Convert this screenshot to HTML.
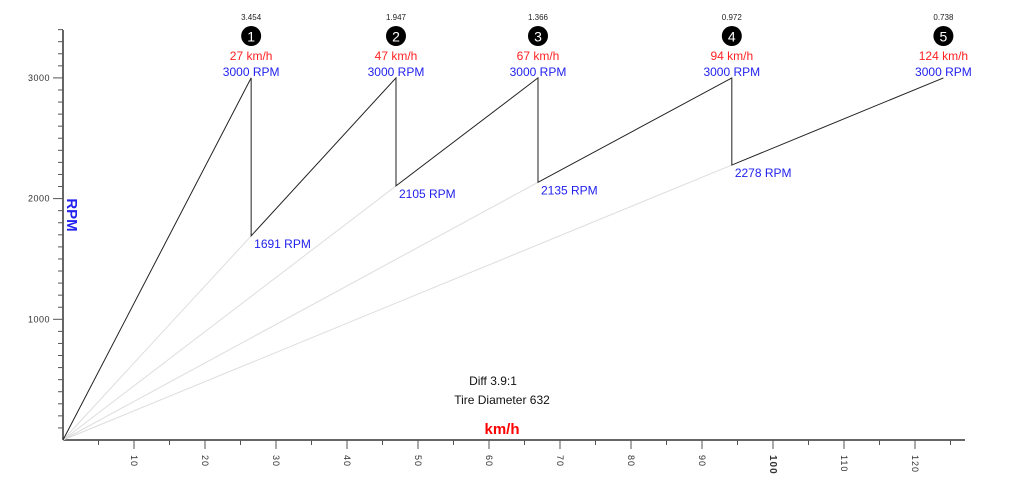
<!DOCTYPE html>
<html><head><meta charset="utf-8"><style>
body{margin:0;background:#fff;}
svg{display:block;font-family:"Liberation Sans",sans-serif;}
</style></head><body>
<svg id="chart" width="1024" height="491" viewBox="0 0 1024 491"></svg>
<script>
const gearRatios=["3.454","1.947","1.366","0.972","0.738"];
const shiftSpeeds=[26.5,46.9,66.9,94.2,124];
const shiftLabels=["27 km/h","47 km/h","67 km/h","94 km/h","124 km/h"];
const maxRpm=[3000,3000,3000,3000,3000];
const dropRpm=[1691,2105,2135,2278];
const xTicks=[10,20,30,40,50,60,70,80,90,100,110,120];
const yTicks=[1000,2000,3000];
const NS="http://www.w3.org/2000/svg";
const svg=document.getElementById('chart');
const X=v=>63+v*7.1;
const Y=r=>440-r*0.1207;
function mk(tag,attrs,txt){const e=document.createElementNS(NS,tag);for(const k in attrs)e.setAttribute(k,attrs[k]);if(txt!==undefined)e.textContent=txt;svg.appendChild(e);return e;}
// axes
let e=mk('line',{x1:63,y1:30,x2:63,y2:440,stroke:'#333','stroke-width':1.5});

e=mk('line',{x1:63,y1:440,x2:965,y2:440,stroke:'#333','stroke-width':1.5});

for(let r=100;r<=3400;r+=100){const major=r%1000===0;
 e=mk('line',{x1:major?53:58,y1:Y(r),x2:63,y2:Y(r),stroke:'#555','stroke-width':1});
 }
yTicks.forEach(r=>{e=mk('text',{x:50,y:Y(r)+3,'font-size':9,fill:'#333','text-anchor':'end','letter-spacing':'0.5'},r);
 });
for(let v=5;v<=125;v+=5){const major=v%10===0;
 e=mk('line',{x1:X(v),y1:440,x2:X(v),y2:major?449:445,stroke:'#555','stroke-width':1});
 }
xTicks.forEach(v=>{e=mk('text',{x:0,y:0,'font-size':v===100?10:9,'font-weight':v===100?'bold':'normal',fill:'#333',transform:`translate(${X(v)-3},455) rotate(90)`,'letter-spacing':'1'},v);
 });
// gray guide lines
dropRpm.forEach((r,i)=>{e=mk('line',{x1:X(0),y1:Y(0),x2:X(shiftSpeeds[i]),y2:Y(r),stroke:'#ddd','stroke-width':1});
 });
// sawtooth
let d=`M${X(0)},${Y(0)}`;
shiftSpeeds.forEach((v,i)=>{d+=` L${X(v)},${Y(maxRpm[i])}`;if(i<dropRpm.length)d+=` L${X(v)},${Y(dropRpm[i])}`;});
e=mk('path',{d:d,fill:'none',stroke:'#222','stroke-width':1});

// labels
shiftSpeeds.forEach((v,i)=>{const x=X(v);
 e=mk('text',{x:x,y:20,'font-size':8,fill:'#222','text-anchor':'middle'},gearRatios[i]);
 
 e=mk('circle',{cx:x,cy:36,r:10,fill:'#000'});
 
 e=mk('text',{x:x,y:41.5,'font-size':14,fill:'#fff','text-anchor':'middle'},i+1);
 
 e=mk('text',{x:x,y:60,'font-size':12,fill:'#f22','text-anchor':'middle'},shiftLabels[i]);
 
 e=mk('text',{x:x,y:76,'font-size':12,fill:'#22e','text-anchor':'middle'},maxRpm[i]+' RPM');
 
 if(i<dropRpm.length){e=mk('text',{x:x+3,y:Y(dropRpm[i])+12,'font-size':12,fill:'#22e'},dropRpm[i]+' RPM');
 }
});
e=mk('text',{x:493,y:385,'font-size':12,fill:'#111','text-anchor':'middle'},'Diff 3.9:1');

e=mk('text',{x:502,y:404,'font-size':12,fill:'#111','text-anchor':'middle'},'Tire Diameter 632');

e=mk('text',{x:502,y:434,'font-size':15,'font-weight':'bold',fill:'#f00','text-anchor':'middle'},'km/h');

e=mk('text',{x:0,y:0,'font-size':15,'font-weight':'bold',fill:'#22e','text-anchor':'middle',transform:'translate(67,215) rotate(90)'},'RPM');

</script>
</body></html>
